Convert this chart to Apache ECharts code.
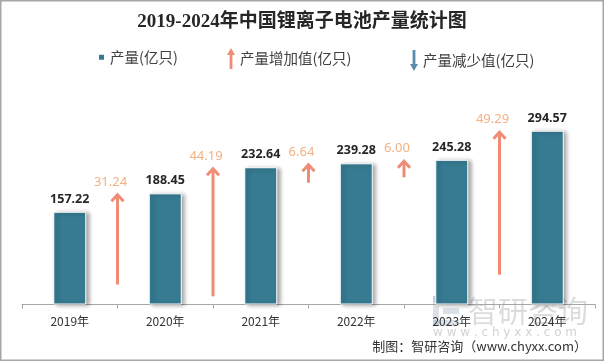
<!DOCTYPE html>
<html><head><meta charset="utf-8">
<script src="https://cdn.jsdelivr.net/npm/echarts@6/dist/echarts.min.js"></script>
<style>html,body{margin:0;padding:0;background:#fff}#c{width:604px;height:361px}</style>
</head><body><div id="c"></div>
<script>
const categories = ['2019年','2020年','2021年','2022年','2023年','2024年'];
const production = [157.22,188.45,232.64,239.28,245.28,294.57];
const increase = [31.24,44.19,6.64,6.00,49.29];
const decrease = [];
const titleText = '2019-2024年中国锂离子电池产量统计图';
const sourceText = '制图：智研咨询（www.chyxx.com）';
const seriesNames = ['产量(亿只)','产量增加值(亿只)','产量减少值(亿只)'];

const chart = echarts.init(document.getElementById('c'), null, {renderer:'canvas'});
const arrowData = increase.map((d,i)=>[i, production[i+1], d]);
const upColor = '#F08C76', downColor = '#5B8FA9', barColor = '#367B92';
const upIcon = 'path://M4,0 L8,7 L5.4,7 L5.4,21 L2.6,21 L2.6,7 L0,7 Z';
const downIcon = 'path://M4,21 L8,14 L5.4,14 L5.4,0 L2.6,0 L2.6,14 L0,14 Z';
const cjk = '"Noto Sans CJK SC", sans-serif';

function renderArrow(params, api){
  const i = api.value(0), top = api.value(1), delta = api.value(2);
  const p = api.coord([i, top]);
  const band = api.size([1,0])[0];
  const x = p[0] + band/2;
  const y0 = p[1];
  const len = chart.convertToPixel({yAxisIndex:1}, 0) - chart.convertToPixel({yAxisIndex:1}, delta);
  const y1 = y0 + len;
  return {type:'group', children:[
    {type:'line', shape:{x1:x,y1:y0+2,x2:x,y2:y1}, style:{stroke:upColor,lineWidth:3}},
    {type:'polyline', shape:{points:[[x-6,y0+8],[x,y0+1.5],[x+6,y0+8]]}, style:{stroke:upColor,lineWidth:3,fill:null,lineJoin:'miter'}},
    {type:'text', x:x-7, y:y0-11, style:{text: delta.toFixed(2), fill:'#F4B183', font:'13px "Noto Sans"', align:'center', verticalAlign:'middle'}}
  ]};
}

const legendText = {fontSize:14.5, color:'#404040', fontFamily:cjk};
chart.setOption({
  animation:false,
  title:{text:titleText, left:'center', top:13, padding:0,
    textStyle:{fontSize:19, fontWeight:'bold', color:'#262626', fontFamily:'"Liberation Serif", "Noto Sans CJK SC", serif'}},
  legend:[
    {data:[seriesNames[0]], left:97, top:50, padding:0, icon:'rect', itemWidth:7, itemHeight:7, selectedMode:false, textStyle:legendText},
    {data:[seriesNames[1]], left:227, top:48, padding:0, icon:upIcon, itemWidth:8, itemHeight:21, selectedMode:false, textStyle:legendText},
    {data:[seriesNames[2]], left:410, top:50, padding:0, icon:downIcon, itemWidth:8, itemHeight:21, selectedMode:false, textStyle:legendText}
  ],
  grid:{left:22, right:9, top:98, bottom:56.5},
  xAxis:{type:'category', data:categories, boundaryGap:true,
    axisLine:{lineStyle:{color:'#A6A6A6', width:1}},
    axisTick:{show:true, length:4, lineStyle:{color:'#A6A6A6'}},
    axisLabel:{margin:11, fontSize:12, color:'#333', fontFamily:cjk}},
  yAxis:[{type:'value', min:0, max:350, show:false}, {type:'value', min:0, max:70.7, show:false}],
  graphic:[
    {type:'rect', shape:{x:0.75,y:0.75,width:602.5,height:359.5}, style:{fill:null, stroke:'#A6A6A6', lineWidth:1.5}, z:-1},
    {type:'group', left:433, top:296, z:0, silent:true, children:[
      {type:'rect', shape:{x:0,y:0,width:26,height:6}, style:{fill:'rgba(150,170,190,0.35)'}},
      {type:'rect', shape:{x:0,y:0,width:6,height:30}, style:{fill:'rgba(150,170,190,0.35)'}},
      {type:'rect', shape:{x:10,y:12,width:16,height:6}, style:{fill:'rgba(150,170,190,0.35)'}},
      {type:'rect', shape:{x:0,y:24,width:26,height:6}, style:{fill:'rgba(150,170,190,0.35)'}}
    ]},
    {type:'text', left:468, top:296, z:0, silent:true, style:{text:'智研咨询', font:'30px "Noto Sans CJK SC"', fill:'rgba(150,155,160,0.35)'}},
    {type:'text', left:433, top:327, z:0, silent:true, style:{text:'w w w . c h y x x . c o m', font:'12px "DejaVu Sans"', fill:'rgba(150,155,160,0.45)'}},
    {type:'text', right:17, top:340, z:10, style:{text:sourceText, font:'13px "Noto Sans CJK SC"', fill:'#333'}}
  ],
  series:[
    {name:seriesNames[0], type:'bar', data:production, barWidth:33, z:3,
      itemStyle:{color:barColor, borderColor:'#fff', borderWidth:1, shadowColor:'rgba(0,0,0,0.35)', shadowBlur:4, shadowOffsetX:3, shadowOffsetY:1},
      label:{show:true, position:'top', distance:6, fontSize:12.5, fontWeight:'bold', color:'#262626', fontFamily:'"Noto Sans"', formatter:p=>p.value.toFixed(2)}},
    {name:seriesNames[1], type:'custom', data:arrowData, renderItem:renderArrow, itemStyle:{color:upColor}, z:4},
    {name:seriesNames[2], type:'custom', data:decrease, renderItem:()=>null, itemStyle:{color:downColor}}
  ]
});
</script></body></html>
